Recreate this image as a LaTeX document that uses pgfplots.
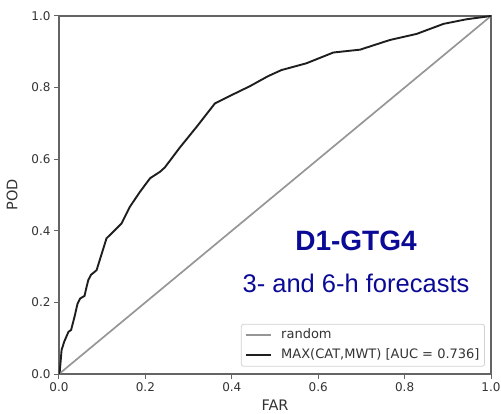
\documentclass[border=0pt]{standalone}
\usepackage{fontspec}
\setmainfont{DejaVu Sans}
\newfontfamily\arialfont{Liberation Sans}
\usepackage{pgfplots}
\pgfplotsset{compat=1.18}
\definecolor{titleblue}{RGB}{10,10,150}
\definecolor{spine}{RGB}{100,100,100}
\definecolor{diag}{RGB}{150,150,150}
\definecolor{curve}{RGB}{30,30,30}
\begin{document}
\begin{tikzpicture}
\begin{axis}[
  scale only axis,
  width=432bp, height=358bp,
  xmin=0, xmax=1, ymin=0, ymax=1,
  xtick={0,0.2,0.4,0.6,0.8,1.0},
  ytick={0,0.2,0.4,0.6,0.8,1.0},
  xticklabels={0.0,0.2,0.4,0.6,0.8,1.0},
  yticklabels={0.0,0.2,0.4,0.6,0.8,1.0},
  tick align=outside,
  major tick length=4.5bp,
  xtick pos=bottom, ytick pos=left,
  axis line style={spine, line width=1.2bp},
  tick style={spine, line width=1bp},
  ticklabel style={font=\fontsize{12bp}{14bp}\selectfont, text=black!80},
  /pgf/number format/assume math mode=true,
  xticklabel style={yshift=-0.5bp},
  yticklabel style={xshift=-0.5bp},
  xlabel={FAR}, ylabel={POD},
  xlabel style={at={(axis description cs:0.5,-0.0866)}, anchor=center, font=\fontsize{14.5bp}{16bp}\selectfont, text=black!80},
  ylabel style={at={(axis description cs:-0.1088,0.5)}, anchor=center, font=\fontsize{14.5bp}{16bp}\selectfont, text=black!80},
  legend style={at={(axis description cs:0.986,0.0205)}, anchor=south east,
    draw=black!18, rounded corners=2.5bp, line width=0.8bp,
    font=\fontsize{13bp}{15bp}\selectfont, text=black!80,
    inner sep=3.5bp, row sep=5bp, column sep=8bp,
    nodes={inner sep=1.5bp, text height=9.5bp, text depth=2.5bp}},
  legend cell align=left,
  legend image code/.code={\draw[#1] (0bp,0bp) -- (25bp,0bp);},
]
\addplot[diag, line width=1.7bp] coordinates {(0,0) (1,1)};
\addlegendentry{random}
\addplot[curve, line width=1.9bp] coordinates {
(0,0) (0.002,0.01) (0.006,0.067) (0.012,0.09) (0.022,0.118) (0.028,0.123)
(0.036,0.16) (0.043,0.197) (0.049,0.211) (0.059,0.218) (0.064,0.244)
(0.068,0.263) (0.074,0.277) (0.083,0.286) (0.087,0.29) (0.110,0.379)
(0.122,0.393) (0.145,0.421) (0.164,0.467) (0.1875,0.509) (0.211,0.547)
(0.234,0.565) (0.245,0.577) (0.280,0.633) (0.319,0.691) (0.361,0.756)
(0.396,0.777) (0.442,0.804) (0.484,0.832) (0.515,0.849) (0.573,0.868)
(0.635,0.898) (0.697,0.906) (0.766,0.933) (0.828,0.95) (0.890,0.978)
(0.944,0.991) (1.0,1.0)};
\addlegendentry{MAX(CAT,MWT) [AUC = 0.736]}
\node[anchor=base, text=titleblue, font=\arialfont\bfseries\fontsize{28bp}{30bp}\selectfont] at (axis cs:0.6875,0.346) {D1-GTG4};
\node[anchor=base, text=titleblue, font=\arialfont\fontsize{25.5bp}{27bp}\selectfont] at (axis cs:0.6875,0.227) {3- and 6-h forecasts};
\coordinate (bl) at (rel axis cs:0,0);
\coordinate (tr) at (rel axis cs:1,1);
\end{axis}
\pgfresetboundingbox
\path[use as bounding box] ([shift={(-59bp,-40bp)}]bl) rectangle ([shift={(10bp,16bp)}]tr);
\end{tikzpicture}
\end{document}
